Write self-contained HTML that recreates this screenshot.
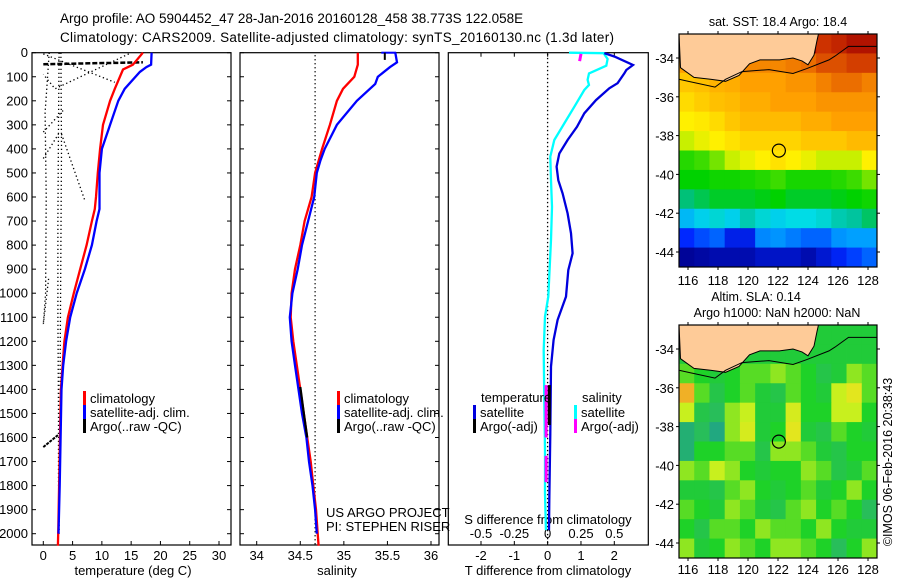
<!DOCTYPE html>
<html><head><meta charset="utf-8"><style>
html,body{margin:0;padding:0;background:#fff;}
svg{display:block;font-family:"Liberation Sans",sans-serif;}
</style></head><body>
<svg id="chart" width="900" height="580" viewBox="0 0 900 580" xmlns="http://www.w3.org/2000/svg">
<text x="60" y="23" font-size="13.5">Argo profile: AO 5904452_47 28-Jan-2016 20160128_458 38.773S 122.058E</text>
<text x="60" y="42" font-size="13.5" textLength="554">Climatology: CARS2009. Satellite-adjusted climatology: synTS_20160130.nc (1.3d later)</text>
<g id="g"></g>
</svg>
<script>
// ---------- data ----------
const depthTicks=[0,100,200,300,400,500,600,700,800,900,1000,1100,1200,1300,1400,1500,1600,1700,1800,1900,2000];
const tempTicks=[0,5,10,15,20,25,30];
const salTicks=[34,34.5,35,35.5,36];
const tdTicks=[-2,-1,0,1,2];
const sdTicks=[-0.5,-0.25,0,0.25,0.5];
const sdTickLabels=["-0.5","-0.25","0","0.25","0.5"];
const tClimDepth=[0,50,70,150,200,300,400,500,600,650,700,800,900,1000,1100,1200,1300,1400,1600,1800,2000,2050];
const tClimVal=[17.0,15.3,13.6,12.2,11.4,10.2,9.7,9.3,9.0,8.8,8.3,7.4,6.3,5.2,4.2,3.6,3.3,3.0,2.85,2.7,2.55,2.5];
const tSatDepth=[0,50,60,80,150,200,300,400,500,600,650,700,800,900,1000,1100,1200,1300,1400,1600,1800,2000];
const tSatVal=[18.5,18.4,17.6,16.5,13.9,12.8,11.4,10.0,9.6,9.6,9.6,9.1,8.3,7.1,5.7,4.6,3.9,3.4,3.1,2.95,2.8,2.6];
const sClimDepth=[0,50,100,150,200,300,400,500,600,700,800,900,1000,1100,1200,1300,1400,1500,1600,1700,1800,1900,2000,2050];
const sClimVal=[35.16,35.16,35.12,34.99,34.92,34.84,34.75,34.67,34.63,34.55,34.50,34.44,34.40,34.39,34.42,34.46,34.50,34.54,34.58,34.62,34.65,34.68,34.70,34.71];
const sSatDepth=[0,40,60,100,130,200,300,400,450,500,600,700,800,900,1000,1100,1200,1300,1400,1500,1600,1700,1800,1900,2000];
const sSatVal=[35.59,35.61,35.53,35.39,35.36,35.15,34.92,34.78,34.73,34.69,34.66,34.59,34.52,34.47,34.41,34.38,34.40,34.44,34.48,34.52,34.57,34.60,34.64,34.67,34.69];
const tdDepth=[2,16,51,72,86,127,148,197,252,308,363,419,474,530,585,668,751,834,904,1014,1111,1194,1305,1583,1860,1985];
const tdVal=[1.70,2.0,2.56,2.36,2.30,2.10,1.85,1.45,1.10,0.88,0.60,0.35,0.27,0.32,0.45,0.60,0.70,0.75,0.62,0.55,0.30,0.18,0.10,0.08,0.05,0.04];
const sdDepth=[0,2,26,54,86,113,134,155,225,294,363,432,530,641,779,918,1014,1097,1236,1444,1652,1832,1985];
const sdVal=[0.16,0.42,0.45,0.44,0.31,0.30,0.31,0.275,0.20,0.125,0.05,0.02,0.025,0.033,0.025,0.013,0.005,-0.02,-0.03,-0.025,-0.02,-0.02,-0.013];
// nearby profiles (dotted) as [temp,depth] pairs
const nearbyT=[
 [[2.7,0],[2.6,300],[2.5,700],[2.5,1100],[2.6,1500],[2.6,1800]],
 [[3.0,0],[3.1,400],[3.0,800],[2.9,1200],[2.8,1600],[2.7,2000]],
 [[0,5],[12.2,123]],
 [[14.6,5],[2.0,150],[0,90]],
 [[3.1,338],[7.1,615]],
 [[0,440],[2.6,338]],
 [[0,330],[3.4,240]],
 [[1.0,0],[0.3,250],[0.5,600],[0.4,1000],[0,1130]],
 [[0.9,940],[0,1130]]
];
const argoTSurfT=[0,4,8,13,17];
const argoTSurfD=[48,46,44,42,40];
// map grids (13 lon cols x 12 lat rows), colormap index 0..1
const sstGrid=[
[0.98,0.98,0.98,0.98,0.98,0.98,0.98,0.98,0.98,0.9,0.92,0.95,0.95],
[0.72,0.72,0.72,0.74,0.76,0.76,0.76,0.78,0.8,0.85,0.85,0.88,0.88],
[0.66,0.67,0.69,0.7,0.72,0.72,0.72,0.74,0.74,0.77,0.8,0.8,0.77],
[0.63,0.65,0.67,0.68,0.7,0.7,0.72,0.72,0.72,0.74,0.74,0.74,0.74],
[0.6,0.61,0.63,0.66,0.68,0.68,0.68,0.68,0.7,0.7,0.72,0.72,0.72],
[0.55,0.58,0.6,0.62,0.64,0.64,0.64,0.64,0.66,0.66,0.66,0.68,0.68],
[0.47,0.5,0.52,0.55,0.58,0.6,0.62,0.6,0.58,0.55,0.55,0.55,0.6],
[0.42,0.42,0.44,0.44,0.45,0.47,0.5,0.45,0.45,0.45,0.47,0.5,0.52],
[0.36,0.38,0.4,0.4,0.4,0.41,0.42,0.4,0.4,0.4,0.41,0.42,0.44],
[0.27,0.29,0.31,0.29,0.33,0.31,0.29,0.3,0.3,0.31,0.33,0.34,0.37],
[0.15,0.18,0.2,0.13,0.13,0.23,0.24,0.22,0.2,0.2,0.24,0.25,0.25],
[0.06,0.07,0.08,0.08,0.08,0.1,0.1,0.1,0.08,0.11,0.14,0.17,0.2]];
const slaGrid=[
[0.4,0.4,0.4,0.4,0.4,0.4,0.4,0.4,0.4,0.4,0.4,0.4,0.4],
[0.4,0.4,0.4,0.4,0.4,0.4,0.4,0.4,0.4,0.4,0.4,0.4,0.4],
[0.5,0.45,0.4,0.45,0.5,0.5,0.55,0.5,0.45,0.35,0.4,0.55,0.5],
[0.9,0.5,0.35,0.45,0.5,0.4,0.35,0.5,0.45,0.4,0.6,0.7,0.5],
[0.6,0.35,0.3,0.55,0.6,0.4,0.4,0.65,0.45,0.45,0.6,0.6,0.45],
[0.2,0.3,0.15,0.55,0.65,0.4,0.45,0.7,0.4,0.35,0.5,0.45,0.4],
[0.2,0.45,0.45,0.5,0.5,0.35,0.55,0.55,0.5,0.4,0.35,0.45,0.45],
[0.55,0.5,0.6,0.55,0.45,0.4,0.45,0.45,0.55,0.5,0.35,0.4,0.5],
[0.4,0.4,0.35,0.5,0.55,0.45,0.4,0.45,0.5,0.4,0.45,0.55,0.45],
[0.5,0.45,0.4,0.55,0.5,0.4,0.35,0.5,0.55,0.45,0.5,0.45,0.3],
[0.45,0.35,0.5,0.5,0.45,0.55,0.5,0.5,0.45,0.55,0.45,0.4,0.4],
[0.55,0.4,0.45,0.55,0.5,0.45,0.55,0.55,0.5,0.45,0.3,0.45,0.55]];
const lonTicks=[116,118,120,122,124,126,128];
const latTicks=[-34,-36,-38,-40,-42,-44];
const coastLon=[115.4,115.5,116.4,117.5,118.5,119.4,120.1,120.8,122.1,123.0,123.6,124.0,124.4,124.6,124.7];
const coastLat=[-32.76,-34.5,-35.0,-35.1,-35.2,-34.9,-34.3,-34.1,-34.1,-34.0,-34.15,-34.35,-33.85,-33.1,-32.76];
const isoLon=[115.4,116.0,117.8,118.5,119.6,121.4,123.0,123.9,125.4,125.8,126.7,128.6];
const isoLat=[-35.1,-35.2,-35.5,-35.1,-34.7,-34.6,-34.8,-34.55,-34.1,-33.9,-33.4,-33.4];
const argoLon=122.058, argoLat=-38.773;

// ---------- helpers ----------
const NS="http://www.w3.org/2000/svg";
const G=document.getElementById('g');
function mk(tag,attrs,parent){const e=document.createElementNS(NS,tag);for(const k in attrs)e.setAttribute(k,attrs[k]);(parent||G).appendChild(e);return e;}
function txt(x,y,s,size,anchor,parent){const t=mk('text',{x:x,y:y,'font-size':size||13,'text-anchor':anchor||'start'},parent);t.textContent=s;return t;}
const yTop=52.7, yScale=0.2405;
function yD(d){return yTop+d*yScale;}
const yBot=545;
function lin(d0,d1,r0,r1){return v=>r0+(v-d0)*(r1-r0)/(d1-d0);}
const xT=lin(0,30,43.3,219);
const xS=lin(34,36,256.7,431);
const xTD=lin(-2,2,481,614.3);
const xSD=lin(-0.5,0.5,481,614.3);
function poly(xs,ds,fx,color,w,name,dash){
  const pts=xs.map((v,i)=>fx(v).toFixed(1)+','+yD(ds[i]).toFixed(1)).join(' ');
  const p=mk('polyline',{points:pts,fill:'none',stroke:color,'stroke-width':w});
  if(dash)p.setAttribute('stroke-dasharray',dash);
  
  
  return p;
}
function panel(x0,x1,name){
  const r=mk('rect',{x:x0,y:yTop,width:x1-x0,height:yBot-yTop,fill:'none',stroke:'#000','stroke-width':1.2});
  
  
  depthTicks.forEach(d=>{mk('line',{x1:x0,x2:x0+4,y1:yD(d),y2:yD(d),stroke:'#000'});mk('line',{x1:x1-4,x2:x1,y1:yD(d),y2:yD(d),stroke:'#000'});});
}
// ---------- panel 1 temperature ----------
panel(32,231,'temperature-panel');
depthTicks.forEach(d=>{const t=txt(28,yD(d)+4.5,String(d),13,'end');});
tempTicks.forEach(v=>{mk('line',{x1:xT(v),x2:xT(v),y1:yBot,y2:yBot-4,stroke:'#000'});const t=txt(xT(v),560,String(v),13,'middle');});
{const t=txt(133,575,'temperature (deg C)',13,'middle');}
nearbyT.forEach(pr=>{poly(pr.map(p=>p[0]),pr.map(p=>p[1]),xT,'#000',1.3,'nearby-profile','1.3 2.7');});
poly(argoTSurfT,argoTSurfD,xT,'#000',2.5,'argo-temp-surface','5 2');
poly([0,2.5],[1640,1590],xT,'#000',2,'argo-temp-deep','3 1');
poly(tClimVal,tClimDepth,xT,'#ff0000',2.3,'temp-climatology-line');
poly(tSatVal,tSatDepth,xT,'#0000ff',2.3,'temp-satellite-line');
function legend(x,y,color,label){mk('rect',{x:x,y:y-7,width:3,height:14,fill:color});const t=txt(x+7,y+5,label,13);}
legend(83,398,'#ff0000','climatology');legend(83,412,'#0000ff','satellite-adj. clim.');legend(83,426,'#000','Argo(..raw -QC)');
// ---------- panel 2 salinity ----------
panel(240,439,'salinity-panel');
salTicks.forEach(v=>{mk('line',{x1:xS(v),x2:xS(v),y1:yBot,y2:yBot-4,stroke:'#000'});const t=txt(xS(v),560,String(v),13,'middle');});
{const t=txt(337,575,'salinity',13,'middle');}
poly([34.67,34.67],[10,2050],xS,'#000',1.3,'salinity-reference-dotted','1.3 2.7');
poly(sClimVal,sClimDepth,xS,'#ff0000',2.3,'salinity-climatology-line');
poly(sSatVal,sSatDepth,xS,'#0000ff',2.3,'salinity-satellite-line');
poly([34.5,34.54,34.58],[1390,1500,1600],xS,'#000',2.3,'argo-salinity-deep');
poly([35.43,35.6],[0,0],xS,'#0000ff',2,'argo-salinity-top');
poly([35.47,35.47],[0,30],xS,'#000',2,'argo-salinity-top-tick');
legend(337,398,'#ff0000','climatology');legend(337,412,'#0000ff','satellite-adj. clim.');legend(337,426,'#000','Argo(..raw -QC)');
{const t=txt(326,517,'US ARGO PROJECT',13);}
{const t=txt(326,531,'PI: STEPHEN RISER',13);}
// ---------- panel 3 differences ----------
{const r=mk('rect',{x:448.3,y:yTop,width:200,height:yBot-yTop,fill:'none',stroke:'#000','stroke-width':1.2});}
tdTicks.forEach(v=>{mk('line',{x1:xTD(v),x2:xTD(v),y1:yBot,y2:yBot-4,stroke:'#000'});mk('line',{x1:xTD(v),x2:xTD(v),y1:yTop,y2:yTop+4,stroke:'#000'});const t=txt(xTD(v),560,String(v),13,'middle');});
sdTicks.forEach((v,i)=>{const t=txt(xSD(v),538,sdTickLabels[i],13,'middle');});
{const t=txt(548,524,'S difference from climatology',13,'middle');}
{const t=txt(548,575,'T difference from climatology',13,'middle');}
poly([0,0],[5,2050],xTD,'#000',1.3,'zero-line','1.3 2.7');
poly(sdVal,sdDepth,xSD,'#00ffff',2.3,'salinity-diff-line');
poly(tdVal,tdDepth,xTD,'#0000dd',2.3,'temp-diff-line');
poly([0.05,0.05],[1382,1548],xTD,'#000',3,'argo-tdiff');
poly([-0.012,-0.012],[1382,1600],xSD,'#ff00ff',3,'argo-sdiff');
poly([-0.012,-0.012],[1676,1786],xSD,'#ff00ff',3,'argo-sdiff-deep');
poly([0.25,0.24],[5,35],xSD,'#ff00ff',3,'argo-sdiff-top');
{const t=txt(481,402,'temperature',13);}
{const t=txt(582,402,'salinity',13);}
legend(473,412,'#0000dd','satellite');legend(473,426,'#000','Argo(-adj)');
legend(574,412,'#00ffff','satellite');legend(574,426,'#ff00ff','Argo(-adj)');
// ---------- maps ----------
function ramp(stops,v){
  if(v<=stops[0][0])return `rgb(${stops[0][1]})`;
  for(let i=1;i<stops.length;i++){if(v<=stops[i][0]){const f=(v-stops[i-1][0])/(stops[i][0]-stops[i-1][0]);const c=stops[i-1][1].map((a,k)=>Math.round(a+f*(stops[i][1][k]-a)));return `rgb(${c})`;}}
  return `rgb(${stops[stops.length-1][1]})`;}
const sstStops=[[0.05,[0,0,140]],[0.15,[0,40,255]],[0.25,[0,160,255]],[0.3,[0,220,230]],[0.35,[0,190,140]],[0.42,[0,210,0]],[0.5,[60,220,0]],[0.55,[200,240,0]],[0.6,[255,240,0]],[0.65,[255,205,0]],[0.72,[255,160,0]],[0.8,[235,110,0]],[0.9,[205,50,0]],[0.98,[160,0,0]]];
const slaStops=[[0.1,[30,160,140]],[0.3,[40,190,90]],[0.45,[30,210,40]],[0.6,[200,240,30]],[0.75,[240,225,30]],[0.95,[240,160,40]]];
function sstCol(v){return ramp(sstStops,v);}
function slaCol(v){return ramp(slaStops,v);}
function drawMap(top,grid,colf,name,lblY){
  const L=679,R=877,B=top+233;
  const px=lin(116,128,688,868), py=lin(-34,-44,top+24,top+218);
  const gEl=mk('g',{});
  const cw=(R-L)/13, ch=(B-top)/12;
  grid.forEach((row,i)=>row.forEach((v,j)=>{const c=mk('rect',{x:(L+j*cw).toFixed(2),y:(top+i*ch).toFixed(2),width:(cw+0.4).toFixed(2),height:(ch+0.4).toFixed(2),fill:colf(v)},gEl);}));
  let lp=coastLon.map((v,i)=>px(v).toFixed(1)+','+py(coastLat[i]).toFixed(1)).join(' ');
  lp+=' '+px(124.7).toFixed(1)+','+top+' '+L+','+top;
  const land=mk('polygon',{points:lp,fill:'#fecb98',stroke:'#000','stroke-width':1},gEl);
  
  const iso=mk('polyline',{points:isoLon.map((v,i)=>px(v).toFixed(1)+','+py(isoLat[i]).toFixed(1)).join(' '),fill:'none',stroke:'#000','stroke-width':1},gEl);
  
  const c=mk('circle',{cx:px(argoLon),cy:py(argoLat),r:6.5,fill:'none',stroke:'#000','stroke-width':1.2},gEl);
  
  const fr=mk('rect',{x:L,y:top,width:R-L,height:B-top,fill:'none',stroke:'#000','stroke-width':1.2},gEl);
  
  lonTicks.forEach(v=>{mk('line',{x1:px(v),x2:px(v),y1:B,y2:B+3,stroke:'#000'});mk('line',{x1:px(v),x2:px(v),y1:top,y2:top-3,stroke:'#000'});const t=txt(px(v),lblY,String(v),13,'middle');});
  latTicks.forEach(v=>{mk('line',{x1:L,x2:L-3,y1:py(v),y2:py(v),stroke:'#000'});mk('line',{x1:R,x2:R+3,y1:py(v),y2:py(v),stroke:'#000'});const t=txt(674,py(v)+5,String(v),13,'end');});
}
drawMap(34,sstGrid,sstCol,'sst-map',285);
drawMap(325,slaGrid,slaCol,'sla-map',574);
{const t=txt(778,26,'sat. SST: 18.4 Argo: 18.4',12.5,'middle');}
{const t=txt(756,301,'Altim. SLA: 0.14',12.5,'middle');}
{const t=txt(777,317,'Argo h1000: NaN h2000: NaN',12.5,'middle');}
{const t=txt(0,0,'©IMOS 06-Feb-2016 20:38:43',12.5,'middle');t.setAttribute('transform','translate(892,462) rotate(-90)');}
</script>
</body></html>
